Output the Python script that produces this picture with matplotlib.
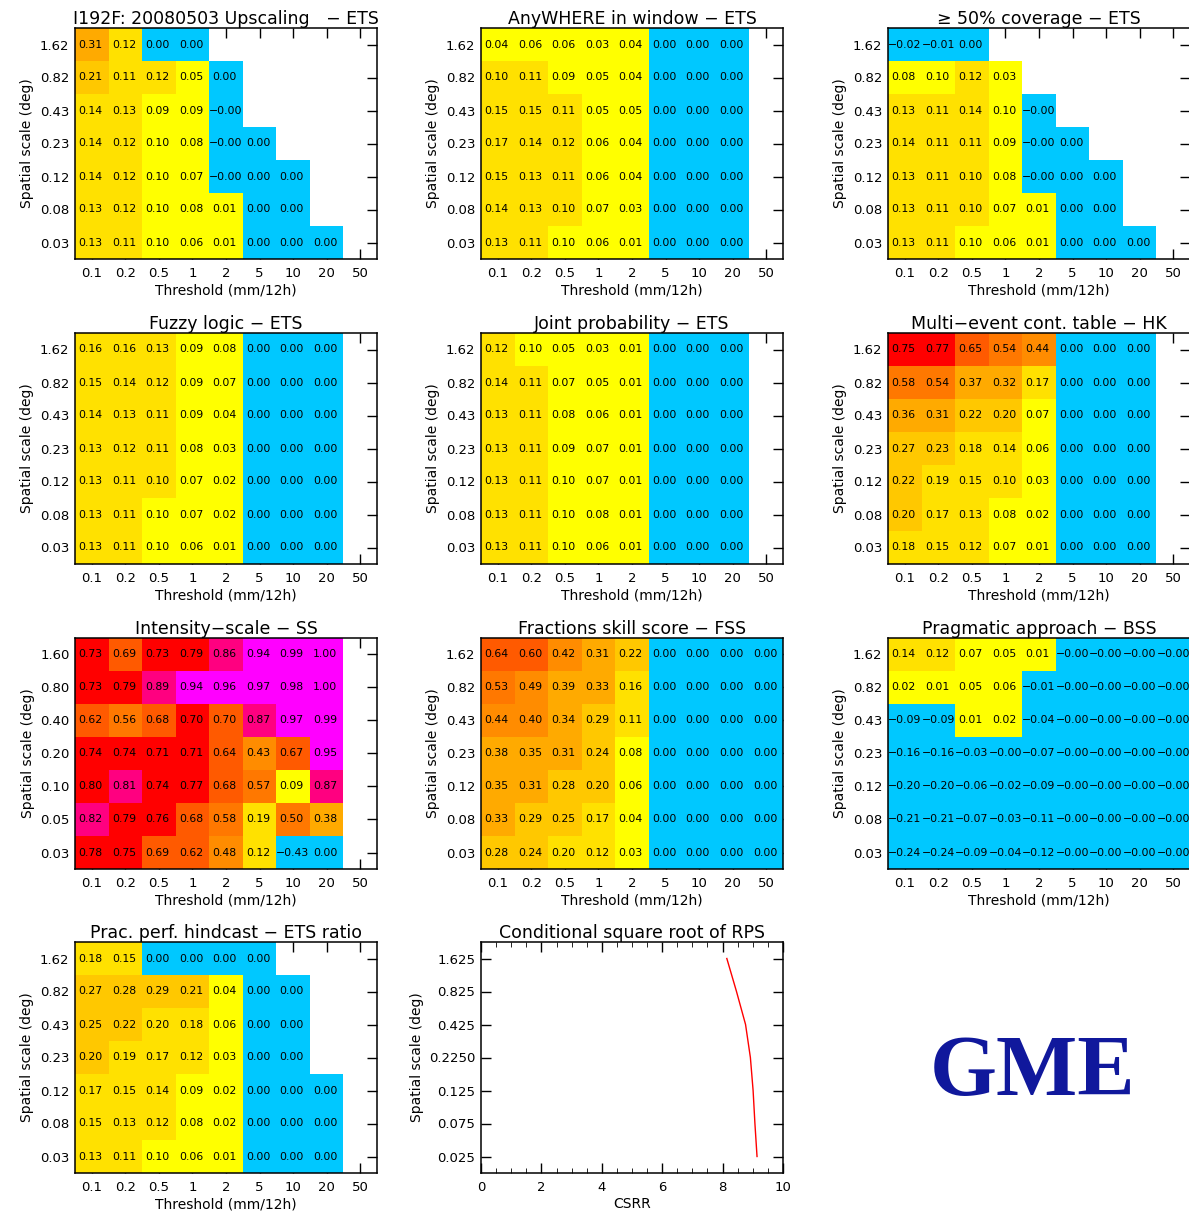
import numpy as np
import matplotlib
matplotlib.use("Agg")
import matplotlib.pyplot as plt
from matplotlib.colors import ListedColormap, BoundaryNorm
from matplotlib.ticker import MultipleLocator

nan = np.nan

thresholds = ['0.1', '0.2', '0.5', '1', '2', '5', '10', '20', '50']
scales = ['1.62', '0.82', '0.43', '0.23', '0.12', '0.08', '0.03']
scales_is = ['1.60', '0.80', '0.40', '0.20', '0.10', '0.05', '0.03']
csrr_scales = ['1.625', '0.825', '0.425', '0.2250', '0.125', '0.075', '0.025']

# rows: top (largest scale) to bottom, columns: thresholds
upscaling = [
    [0.31, 0.12, 0.00, 0.00, nan, nan, nan, nan, nan],
    [0.21, 0.11, 0.12, 0.05, 0.00, nan, nan, nan, nan],
    [0.14, 0.13, 0.09, 0.09, -0.001, nan, nan, nan, nan],
    [0.14, 0.12, 0.098, 0.08, -0.001, 0.00, nan, nan, nan],
    [0.14, 0.12, 0.098, 0.07, -0.001, 0.00, 0.00, nan, nan],
    [0.13, 0.12, 0.098, 0.08, 0.01, 0.00, 0.00, nan, nan],
    [0.13, 0.11, 0.098, 0.06, 0.01, 0.00, 0.00, 0.00, nan],
]
anywhere = [
    [0.04, 0.06, 0.06, 0.03, 0.04, 0.00, 0.00, 0.00, nan],
    [0.102, 0.11, 0.09, 0.05, 0.04, 0.00, 0.00, 0.00, nan],
    [0.15, 0.15, 0.11, 0.05, 0.05, 0.00, 0.00, 0.00, nan],
    [0.17, 0.14, 0.12, 0.06, 0.04, 0.00, 0.00, 0.00, nan],
    [0.15, 0.13, 0.11, 0.06, 0.04, 0.00, 0.00, 0.00, nan],
    [0.14, 0.13, 0.102, 0.07, 0.03, 0.00, 0.00, 0.00, nan],
    [0.13, 0.11, 0.098, 0.06, 0.01, 0.00, 0.00, 0.00, nan],
]
coverage = [
    [-0.02, -0.01, 0.00, nan, nan, nan, nan, nan, nan],
    [0.08, 0.098, 0.12, 0.03, nan, nan, nan, nan, nan],
    [0.13, 0.11, 0.14, 0.098, -0.001, nan, nan, nan, nan],
    [0.14, 0.11, 0.11, 0.09, -0.001, 0.00, nan, nan, nan],
    [0.13, 0.11, 0.102, 0.08, -0.001, 0.00, 0.00, nan, nan],
    [0.13, 0.11, 0.102, 0.07, 0.01, 0.00, 0.00, nan, nan],
    [0.13, 0.11, 0.098, 0.06, 0.01, 0.00, 0.00, 0.00, nan],
]
fuzzy = [
    [0.16, 0.16, 0.13, 0.09, 0.08, 0.00, 0.00, 0.00, nan],
    [0.15, 0.14, 0.12, 0.09, 0.07, 0.00, 0.00, 0.00, nan],
    [0.14, 0.13, 0.11, 0.09, 0.04, 0.00, 0.00, 0.00, nan],
    [0.13, 0.12, 0.11, 0.08, 0.03, 0.00, 0.00, 0.00, nan],
    [0.13, 0.11, 0.102, 0.07, 0.02, 0.00, 0.00, 0.00, nan],
    [0.13, 0.11, 0.098, 0.07, 0.02, 0.00, 0.00, 0.00, nan],
    [0.13, 0.11, 0.098, 0.06, 0.01, 0.00, 0.00, 0.00, nan],
]
joint = [
    [0.12, 0.098, 0.05, 0.03, 0.01, 0.00, 0.00, 0.00, nan],
    [0.14, 0.11, 0.07, 0.05, 0.01, 0.00, 0.00, 0.00, nan],
    [0.13, 0.11, 0.08, 0.06, 0.01, 0.00, 0.00, 0.00, nan],
    [0.13, 0.11, 0.09, 0.07, 0.01, 0.00, 0.00, 0.00, nan],
    [0.13, 0.11, 0.098, 0.07, 0.01, 0.00, 0.00, 0.00, nan],
    [0.13, 0.11, 0.098, 0.08, 0.01, 0.00, 0.00, 0.00, nan],
    [0.13, 0.11, 0.098, 0.06, 0.01, 0.00, 0.00, 0.00, nan],
]
multi = [
    [0.75, 0.77, 0.65, 0.54, 0.44, 0.00, 0.00, 0.00, nan],
    [0.58, 0.54, 0.37, 0.32, 0.17, 0.00, 0.00, 0.00, nan],
    [0.36, 0.31, 0.22, 0.20, 0.07, 0.00, 0.00, 0.00, nan],
    [0.27, 0.23, 0.18, 0.14, 0.06, 0.00, 0.00, 0.00, nan],
    [0.22, 0.19, 0.15, 0.102, 0.03, 0.00, 0.00, 0.00, nan],
    [0.20, 0.17, 0.13, 0.08, 0.02, 0.00, 0.00, 0.00, nan],
    [0.18, 0.15, 0.12, 0.07, 0.01, 0.00, 0.00, 0.00, nan],
]
intensity = [
    [0.73, 0.69, 0.73, 0.79, 0.86, 0.94, 0.99, 1.00, nan],
    [0.73, 0.79, 0.89, 0.94, 0.96, 0.97, 0.98, 1.00, nan],
    [0.62, 0.56, 0.68, 0.70, 0.698, 0.87, 0.97, 0.99, nan],
    [0.74, 0.74, 0.71, 0.71, 0.64, 0.43, 0.67, 0.95, nan],
    [0.798, 0.81, 0.74, 0.77, 0.68, 0.57, 0.09, 0.87, nan],
    [0.82, 0.79, 0.76, 0.68, 0.58, 0.19, 0.50, 0.38, nan],
    [0.78, 0.75, 0.69, 0.62, 0.48, 0.12, -0.43, 0.00, nan],
]
fss = [
    [0.64, 0.60, 0.42, 0.31, 0.22, 0.00, 0.00, 0.00, 0.00],
    [0.53, 0.49, 0.39, 0.33, 0.16, 0.00, 0.00, 0.00, 0.00],
    [0.44, 0.40, 0.34, 0.29, 0.11, 0.00, 0.00, 0.00, 0.00],
    [0.38, 0.35, 0.31, 0.24, 0.08, 0.00, 0.00, 0.00, 0.00],
    [0.35, 0.31, 0.28, 0.202, 0.06, 0.00, 0.00, 0.00, 0.00],
    [0.33, 0.29, 0.25, 0.17, 0.04, 0.00, 0.00, 0.00, 0.00],
    [0.28, 0.24, 0.198, 0.12, 0.03, 0.00, 0.00, 0.00, 0.00],
]
pragmatic = [
    [0.14, 0.12, 0.07, 0.05, 0.01, -0.001, -0.001, -0.001, -0.001],
    [0.02, 0.01, 0.05, 0.06, -0.01, -0.001, -0.001, -0.001, -0.001],
    [-0.09, -0.09, 0.01, 0.02, -0.04, -0.001, -0.001, -0.001, -0.001],
    [-0.16, -0.16, -0.03, -0.001, -0.07, -0.001, -0.001, -0.001, -0.001],
    [-0.20, -0.20, -0.06, -0.02, -0.09, -0.001, -0.001, -0.001, -0.001],
    [-0.21, -0.21, -0.07, -0.03, -0.11, -0.001, -0.001, -0.001, -0.001],
    [-0.24, -0.24, -0.09, -0.04, -0.12, -0.001, -0.001, -0.001, -0.001],
]
hindcast = [
    [0.18, 0.15, 0.00, 0.00, 0.00, 0.00, nan, nan, nan],
    [0.27, 0.28, 0.29, 0.21, 0.04, 0.00, 0.00, nan, nan],
    [0.25, 0.22, 0.198, 0.18, 0.06, 0.00, 0.00, nan, nan],
    [0.202, 0.19, 0.17, 0.12, 0.03, 0.00, 0.00, nan, nan],
    [0.17, 0.15, 0.14, 0.09, 0.02, 0.00, 0.00, 0.00, nan],
    [0.15, 0.13, 0.12, 0.08, 0.02, 0.00, 0.00, 0.00, nan],
    [0.13, 0.11, 0.098, 0.06, 0.01, 0.00, 0.00, 0.00, nan],
]
csrr = [8.14, 8.46, 8.76, 8.92, 9.01, 9.07, 9.14]

colors = ['#00c8ff', '#ffff00', '#ffe100', '#ffc800', '#ffaa00', '#ff8c00',
          '#ff7800', '#ff5a00', '#ff0000', '#ff0080', '#ff00ff']
bounds = [-10, 0.001, 0.1, 0.2, 0.3, 0.4, 0.5, 0.6, 0.7, 0.8, 0.9, 10]
cmap = ListedColormap(colors)
norm = BoundaryNorm(bounds, cmap.N)

W, H = 1189, 1213
fig = plt.figure(figsize=(W / 100, H / 100), dpi=100)

lefts = [75, 481, 888]
tops = [28, 333, 638, 942]
aw, ah = 302, 231


def make_ax(col, row):
    return fig.add_axes([lefts[col] / W, 1 - (tops[row] + ah) / H, aw / W, ah / H])


def style(ax):
    ax.tick_params(direction='in', top=True, right=True, length=7, width=1,
                   labelsize=9.5, pad=4)
    ax.tick_params(axis='x', pad=6)
    for s in ax.spines.values():
        s.set_linewidth(1.1)


def heat(ax, vals, title, ylabels):
    z = np.ma.masked_invalid(np.array(vals, dtype=float))
    ax.set_axisbelow(True)
    ax.pcolormesh(np.arange(10) - 0.5, np.arange(8) - 0.5, z, cmap=cmap, norm=norm, zorder=1)
    for i in range(z.shape[0]):
        for j in range(z.shape[1]):
            v = z[i, j]
            if np.ma.is_masked(v):
                continue
            s = f'{v:.2f}'.replace('-', '\u2212')
            off = 0.1 if v >= 0 else 0.0
            ax.text(j - 0.5 + off, i, s, ha='left', va='center', fontsize=7.8,
                    color='black')
    ax.set_xlim(-0.5, 8.5)
    ax.set_ylim(6.5, -0.5)
    ax.set_xticks(range(9))
    ax.set_xticklabels(thresholds)
    ax.set_yticks(range(7))
    ax.set_yticklabels(ylabels)
    ax.set_xlabel('Threshold (mm/12h)', fontsize=10, labelpad=2)
    ax.set_ylabel('Spatial scale (deg)', fontsize=10, labelpad=4)
    ax.set_title(title, fontsize=12.5, pad=3)
    style(ax)


heat(make_ax(0, 0), upscaling, 'I192F: 20080503 Upscaling   \u2212 ETS', scales)
heat(make_ax(1, 0), anywhere, 'AnyWHERE in window \u2212 ETS', scales)
heat(make_ax(2, 0), coverage, '\u2265 50% coverage \u2212 ETS', scales)
heat(make_ax(0, 1), fuzzy, 'Fuzzy logic \u2212 ETS', scales)
heat(make_ax(1, 1), joint, 'Joint probability \u2212 ETS', scales)
heat(make_ax(2, 1), multi, 'Multi\u2212event cont. table \u2212 HK', scales)
heat(make_ax(0, 2), intensity, 'Intensity\u2212scale \u2212 SS', scales_is)
heat(make_ax(1, 2), fss, 'Fractions skill score \u2212 FSS', scales)
heat(make_ax(2, 2), pragmatic, 'Pragmatic approach \u2212 BSS', scales)
heat(make_ax(0, 3), hindcast, 'Prac. perf. hindcast \u2212 ETS ratio', scales)

ax = make_ax(1, 3)
ax.plot(csrr, range(len(csrr)), color='red', lw=1)
ax.set_xlim(0, 10)
ax.set_ylim(6.5, -0.5)
ax.set_yticks(range(7))
ax.set_yticklabels(csrr_scales)
ax.set_xticks(range(0, 11, 2))
ax.xaxis.set_minor_locator(MultipleLocator(0.5))
ax.tick_params(which='minor', direction='in', top=True, length=3.5)
ax.set_xlabel('CSRR', fontsize=10, labelpad=2)
ax.set_ylabel('Spatial scale (deg)', fontsize=10, labelpad=4)
ax.set_title('Conditional square root of RPS', fontsize=12.5, pad=3)
style(ax)

fig.text(1033 / W, 1 - 1074 / H, 'GME', ha='center', va='center', fontsize=62,
         family='Liberation Serif', weight='bold', color='#10189c')

fig.savefig('out.png', dpi=100)
